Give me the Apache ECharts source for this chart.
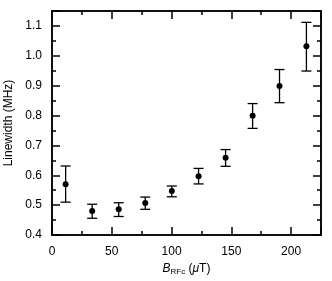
<!DOCTYPE html>
<html><head><meta charset="utf-8">
<script src="https://cdn.jsdelivr.net/npm/echarts@6/dist/echarts.min.js"></script>
<style>html,body{margin:0;padding:0;background:#fff}#c{width:332px;height:281px}</style>
</head><body><div id="c"></div>
<script>
var bField = [11.4, 33.6, 55.8, 78.0, 100.2, 122.6, 145.2, 167.8, 190.3, 212.8];
var linewidth = [0.570, 0.480, 0.486, 0.507, 0.547, 0.597, 0.659, 0.799, 0.899, 1.032];
var errLow = [0.510, 0.456, 0.462, 0.486, 0.528, 0.571, 0.630, 0.757, 0.843, 0.949];
var errHigh = [0.631, 0.503, 0.508, 0.527, 0.564, 0.623, 0.686, 0.840, 0.954, 1.112];
var xTickLabels = ['0', '50', '100', '150', '200'];
var yTickLabels = ['0.4', '0.5', '0.6', '0.7', '0.8', '0.9', '1.0', '1.1'];

var font = 'Liberation Sans, Arial, sans-serif';
var lineStyle = {color: '#000', width: 1.5};
function xAxis(pos, interval, len, showLabel, showName) {
  var a = {
    type: 'value', min: 0, max: 225, interval: interval, position: pos,
    axisLine: {show: true, onZero: false, lineStyle: lineStyle},
    axisTick: {show: true, inside: true, length: len, lineStyle: lineStyle},
    splitLine: {show: false},
    axisLabel: {show: showLabel, margin: 11, color: '#000', fontFamily: font, fontSize: 12,
      formatter: function (v) { var s = String(v); return xTickLabels.indexOf(s) >= 0 ? s : ''; }}
  };
  if (showName) {
    a.name = '{b|B}{s|RFc} {n|(}{m|μ}{n|T)}';
    a.nameLocation = 'middle';
    a.nameGap = 26;
    a.nameTextStyle = {rich: {
      b: {fontFamily: font, fontSize: 12, fontStyle: 'italic', color: '#000'},
      s: {fontFamily: font, fontSize: 8, color: '#000', verticalAlign: 'bottom', padding: [6, 0, 0, 0]},
      n: {fontFamily: font, fontSize: 12, color: '#000'},
      m: {fontFamily: font, fontSize: 12, fontStyle: 'italic', color: '#000'}
    }};
  }
  return a;
}
function yAxis(pos, interval, len, showLabel, showName) {
  var a = {
    type: 'value', min: 0.4, max: 1.15, interval: interval, position: pos,
    axisLine: {show: true, onZero: false, lineStyle: lineStyle},
    axisTick: {show: true, inside: true, length: len, lineStyle: lineStyle},
    splitLine: {show: false},
    axisLabel: {show: showLabel, margin: 10, color: '#000', fontFamily: font, fontSize: 12,
      formatter: function (v) { var s = v.toFixed(1); return (Math.abs(v * 10 - Math.round(v * 10)) < 1e-6 && yTickLabels.indexOf(s) >= 0) ? s : ''; }}
  };
  if (showName) {
    a.name = 'Linewidth (MHz)';
    a.nameLocation = 'middle';
    a.nameGap = 32;
    a.nameTextStyle = {fontFamily: font, fontSize: 12, color: '#000'};
  }
  return a;
}

var chart = echarts.init(document.getElementById('c'), null, {renderer: 'canvas'});
chart.setOption({
  animation: false,
  backgroundColor: '#fff',
  grid: {left: 52, right: 11, top: 11, bottom: 46, containLabel: false, outerBoundsMode: 'none'},
  xAxis: [xAxis('bottom', 25, 4, true, true), xAxis('bottom', 50, 8, false, false),
          xAxis('top', 25, 4, false, false), xAxis('top', 50, 8, false, false)],
  yAxis: [yAxis('left', 0.05, 4, true, true), yAxis('left', 0.1, 8, false, false),
          yAxis('right', 0.05, 4, false, false), yAxis('right', 0.1, 8, false, false)],
  series: [
    {
      type: 'custom',
      data: bField.map(function (x, i) { return [x, errLow[i], errHigh[i]]; }),
      renderItem: function (params, api) {
        var lo = api.coord([api.value(0), api.value(1)]);
        var hi = api.coord([api.value(0), api.value(2)]);
        var w = 5;
        var st = {stroke: '#000', lineWidth: 1.3};
        return {type: 'group', children: [
          {type: 'line', shape: {x1: lo[0], y1: lo[1], x2: hi[0], y2: hi[1]}, style: st},
          {type: 'line', shape: {x1: lo[0] - w, y1: lo[1], x2: lo[0] + w, y2: lo[1]}, style: st},
          {type: 'line', shape: {x1: hi[0] - w, y1: hi[1], x2: hi[0] + w, y2: hi[1]}, style: st}
        ]};
      }
    },
    {
      type: 'scatter', symbol: 'circle', symbolSize: 6,
      itemStyle: {color: '#000', opacity: 1},
      data: bField.map(function (x, i) { return [x, linewidth[i]]; })
    }
  ]
});
</script></body></html>
